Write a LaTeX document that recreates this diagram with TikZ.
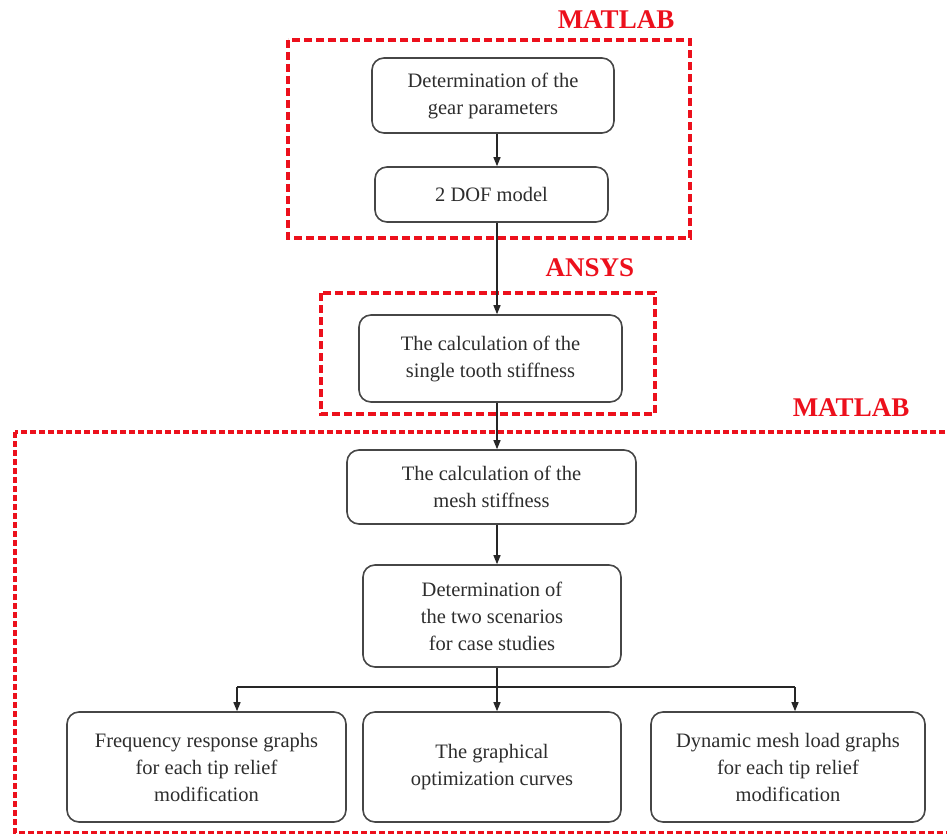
\documentclass[tikz,border=0pt]{standalone}
\usepackage{fontspec}
\setmainfont{Liberation Serif}
\usetikzlibrary{arrows.meta,calc}
\definecolor{redline}{RGB}{236,16,28}
\definecolor{boxline}{RGB}{70,70,70}
\definecolor{txt}{RGB}{45,45,45}
\tikzset{
  flowbox/.style={draw=boxline, line width=1.6pt, rounded corners=12pt, align=center,
    text=txt, font=\fontsize{20.5}{27}\selectfont, inner sep=0pt},
  zone/.style={draw=redline, line width=3.3pt, dash pattern=on 8pt off 4pt},
  zonefine/.style={draw=redline, line width=3.3pt, dash pattern=on 6pt off 3pt},
  zonelabel/.style={text=redline, font=\fontsize{27}{30}\selectfont\bfseries},
  flow/.style={draw=black!85, line width=1.3pt, -{Triangle[length=9pt,width=7pt]}},
  plain/.style={draw=black!85, line width=1.3pt}
}
\begin{document}
\begin{tikzpicture}[x=1pt,y=-1pt]
\useasboundingbox (0,0) rectangle (947,834);
\begin{scope}
\clip (0,0) rectangle (947,834);
% zones
\draw[zone] (288,40) rectangle (690,238);
\draw[zone] (321,293) rectangle (655,414);
\draw[zonefine] (15,432) rectangle (970,833);
\end{scope}
\node[zonelabel] (L1) at (616,20) {MATLAB};
\node[zonelabel] (L2) at (590,268) {ANSYS};
\node[zonelabel] (L3) at (851,408) {MATLAB};
% boxes
\node[flowbox, minimum width=242pt, minimum height=75pt] (A) at (493,95.5) {Determination of the\\gear parameters};
\node[flowbox, minimum width=233pt, minimum height=55pt] (B) at (491.5,194.5) {2 DOF model};
\node[flowbox, minimum width=263pt, minimum height=87pt] (C) at (490.5,358.5) {The calculation of the\\single tooth stiffness};
\node[flowbox, minimum width=289pt, minimum height=74pt] (D) at (491.5,487) {The calculation of the\\mesh stiffness};
\node[flowbox, minimum width=258pt, minimum height=102pt] (E) at (492,616) {Determination of\\the two scenarios\\for case studies};
\node[flowbox, minimum width=279pt, minimum height=110pt] (F) at (206.5,767) {Frequency response graphs\\for each tip relief\\modification};
\node[flowbox, minimum width=258pt, minimum height=110pt] (G) at (492,767) {The graphical\\optimization curves};
\node[flowbox, minimum width=274pt, minimum height=110pt] (H) at (788,767) {Dynamic mesh load graphs\\for each tip relief\\modification};
% connectors
\coordinate (col) at (497,0);
\coordinate (colF) at (237,687);
\coordinate (colH) at (795,687);
\draw[flow] (A.south -| col) -- (B.north -| col);
\draw[flow] (B.south -| col) -- (C.north -| col);
\draw[flow] (C.south -| col) -- (D.north -| col);
\draw[flow] (D.south -| col) -- (E.north -| col);
\draw[flow] (E.south -| col) -- (G.north -| col);
\draw[plain] (colF) -- (colH);
\draw[flow] (colF) -- (F.north -| colF);
\draw[flow] (colH) -- (H.north -| colH);
\end{tikzpicture}
\end{document}
